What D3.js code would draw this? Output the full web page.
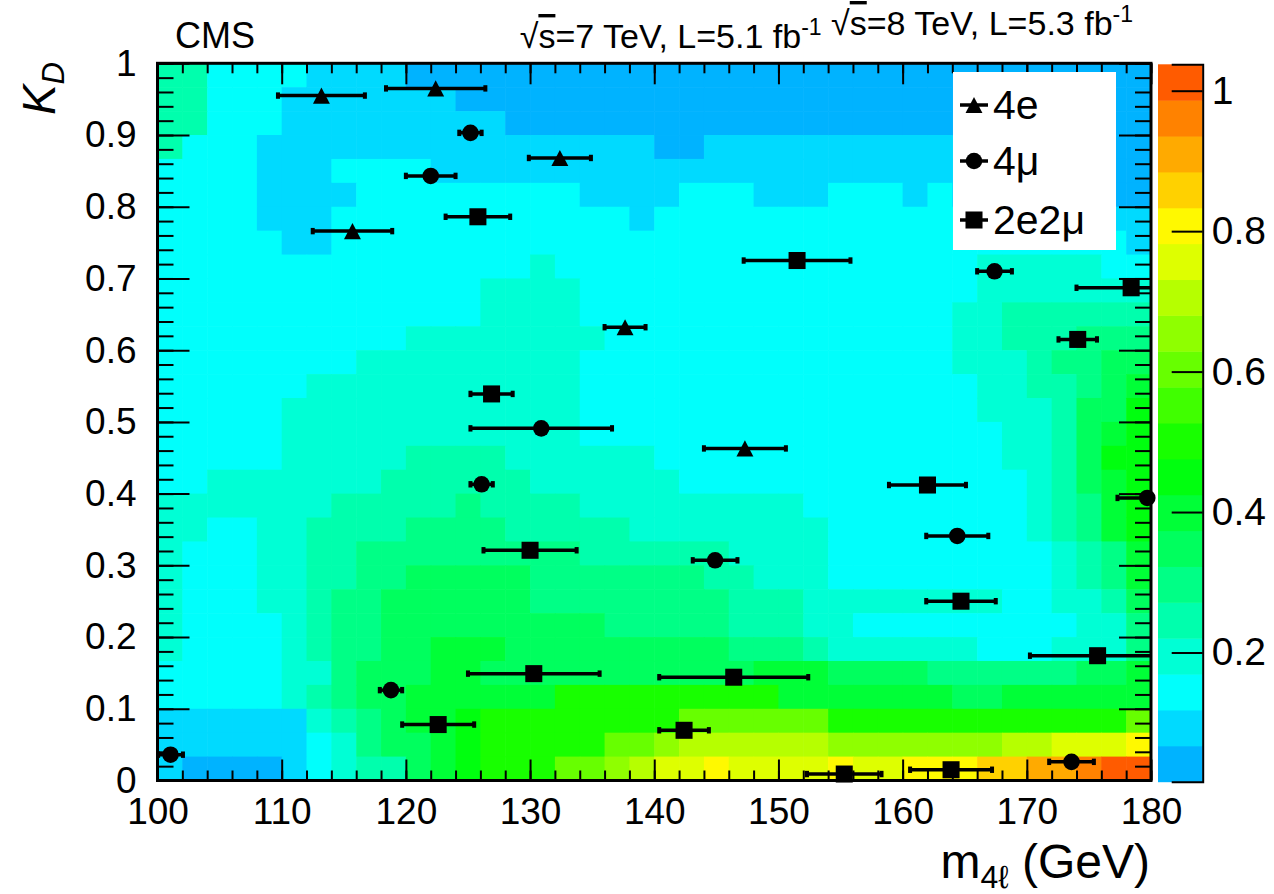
<!DOCTYPE html>
<html>
<head>
<meta charset="utf-8">
<script src="https://cdn.jsdelivr.net/npm/d3@7"></script>
<style>
  body { margin: 0; background: #fff; }
  svg { display: block; font-family: "Liberation Sans", Arial, sans-serif; }
  .tick text { fill: #000; }
</style>
</head>
<body>
<svg id="chart" width="1274" height="894"></svg>
<script>
// ---- data ----
const massEdges = d3.range(100, 180, 2);   // lower edges of the 2 GeV bins
const kdStep = 1 / 30;                     // 30 bins in K_D
// contour level per cell, 0-9 then a-j (=10..19); first row is K_D 0.967-1, last row 0-0.033
const levelRows = [
  "4422221111000000000000000000000000000000",
  "4422211111110000000000000000000000000000",
  "4422211111111100000000000000000000000000",
  "4222111111111111111100111111111111111100",
  "2222111222211111111111111111111111111100",
  "2222111122222222211112221112221211111100",
  "2222111222222222222122222222222222222211",
  "2222211222222222222222222222222222222221",
  "2222222222222223222222222222222223333322",
  "2222222222222333322222222222222223333333",
  "2222222222222333322222222222222233444444",
  "2222222222333333332222222222222233444555",
  "2222222233333333322222222222222233345566",
  "2222223333333333322222222222222223344567",
  "2222233333333333322222222222222223334668",
  "2222233333333333322222222222222222334678",
  "2222233333444433333322222222222222334688",
  "2233333334444443333332222222222222234678",
  "3333333444445444433333333322222222234578",
  "3322334444555544444333333332222222234578",
  "3222334455555555544444433332222222223457",
  "3222334455666665555555443332222222223457",
  "3222334556666665555555544433333333223346",
  "3222234556666666665555544433222222222335",
  "3222234556677766666666655543333332223335",
  "2222233566677666666666667776666555555667",
  "2222234566777777999999999777777766777777",
  "111111345677899999999bbbbbb999999999999bbc",
  "111111235667899999bbcddddddcccccccddeeefgg",
  "1000012344678999bbcdeefeeeefeefffgghhijj"
];
const zMin = 0.016, zMax = 1.0376, nLevels = 20;
const zTicks = [0.2, 0.4, 0.6, 0.8, 1];

// events: [m4l (GeV), mass error (GeV), K_D]
const events4e = [
  [113.2, 3.5, 0.955], [122.4, 4.0, 0.965], [132.4, 2.5, 0.868],
  [115.7, 3.2, 0.766], [137.65, 1.65, 0.632], [147.3, 3.3, 0.463]
];
const events4mu = [
  [125.2, 0.9, 0.903], [122.0, 2.0, 0.843], [167.4, 1.4, 0.710],
  [130.9, 5.7, 0.491], [126.1, 0.9, 0.413], [179.7, 2.4, 0.394],
  [164.4, 2.5, 0.341], [144.9, 1.8, 0.307], [118.8, 0.9, 0.126],
  [101.05, 1.0, 0.036], [173.6, 1.8, 0.026]
];
const events2e2mu = [
  [125.8, 2.6, 0.786], [151.5, 4.3, 0.725], [178.4, 4.4, 0.687],
  [174.1, 1.55, 0.615], [126.9, 1.7, 0.539], [162.0, 3.1, 0.412],
  [130.0, 3.75, 0.321], [164.7, 2.8, 0.250], [175.7, 5.45, 0.174],
  [130.3, 5.3, 0.149], [146.4, 6.0, 0.144], [122.6, 2.9, 0.078],
  [142.4, 2.0, 0.070], [155.3, 3.0, 0.009], [163.9, 3.3, 0.015]
];

const xMajor = [100, 110, 120, 130, 140, 150, 160, 170, 180];
const xMinor = d3.range(100, 181, 2);
const yMajor = [0, 0.1, 0.2, 0.3, 0.4, 0.5, 0.6, 0.7, 0.8, 0.9, 1];
const yMinor = d3.range(0, 51).map(i => i / 50);
const yLabels = ["0", "0.1", "0.2", "0.3", "0.4", "0.5", "0.6", "0.7", "0.8", "0.9", "1"];

// ---- scales ----
const svg = d3.select("#chart");
const x = d3.scaleLinear().domain([100, 180]).range([157.5, 1151]);
const y = d3.scaleLinear().domain([0, 1]).range([780.5, 63.3]);
const z = d3.scaleLinear().domain([zMin, zMax]).range([781.7, 64.3]);
const dz = (zMax - zMin) / nLevels;
// ROOT style rainbow, blue -> red
const palette = d3.range(nLevels).map(i => d3.hsl(198 - i * 9.3, 1, 0.5).formatHex());
const color = d3.scaleQuantize().domain([zMin, zMax]).range(palette);

// ---- heat map cells ----
const cells = [];
levelRows.forEach((row, i) => {
  const kdLow = 1 - (i + 1) * kdStep;
  row.slice(0, massEdges.length).split("").forEach((ch, j) => {
    const level = parseInt(ch, 20);
    cells.push({ m: massEdges[j], kd: kdLow, v: zMin + (level + 0.5) * dz });
  });
});

svg.append("g")
  .selectAll("rect")
  .data(cells)
  .enter()
  .append("rect")
  .attr("x", d => x(d.m))
  .attr("y", d => y(d.kd + kdStep))
  .attr("width", d => x(d.m + 2) - x(d.m) + 0.6)
  .attr("height", d => y(d.kd) - y(d.kd + kdStep) + 0.6)
  .attr("fill", d => color(d.v));

// ---- colour bar ----
const barX = 1158, barW = 44.7;
svg.append("g")
  .selectAll("rect")
  .data(d3.range(nLevels))
  .enter()
  .append("rect")
  .attr("x", barX)
  .attr("y", i => z(zMin + (i + 1) * dz))
  .attr("width", barW)
  .attr("height", i => z(zMin + i * dz) - z(zMin + (i + 1) * dz) + 0.5)
  .attr("fill", i => palette[i]);

const zAxis = svg.append("g")
  .attr("transform", `translate(${barX + barW},0)`)
  .call(d3.axisRight(z).tickValues(zTicks).tickSize(-31).tickPadding(9)
    .tickFormat(d => d === 1 ? "1" : d3.format(".1f")(d)));
zAxis.select(".domain").attr("stroke-width", 2);
zAxis.selectAll(".tick line").attr("stroke-width", 2);
zAxis.selectAll(".tick text").style("font-size", "39px");

// ---- frame axes ----
const addAxis = (axis, tx, ty, sw) => {
  const g = svg.append("g").attr("transform", `translate(${tx},${ty})`).call(axis);
  g.select(".domain").remove();
  g.selectAll(".tick line").attr("stroke-width", sw);
  g.selectAll(".tick text").style("font-size", "37px");
  return g;
};
addAxis(d3.axisBottom(x).tickValues(xMajor).tickSize(-21).tickPadding(17).tickFormat(d3.format("d")), 0, y(0), 2);
addAxis(d3.axisBottom(x).tickValues(xMinor).tickSize(-10).tickFormat(""), 0, y(0), 2);
addAxis(d3.axisTop(x).tickValues(xMajor).tickSize(-21).tickFormat(""), 0, y(1), 2);
addAxis(d3.axisTop(x).tickValues(xMinor).tickSize(-10).tickFormat(""), 0, y(1), 2);
addAxis(d3.axisLeft(y).tickValues(yMajor).tickSize(-32).tickPadding(21).tickFormat((d, i) => yLabels[i]), x(100), 0, 2);
addAxis(d3.axisLeft(y).tickValues(yMinor).tickSize(-16).tickFormat(""), x(100), 0, 2);
addAxis(d3.axisRight(y).tickValues(yMajor).tickSize(-32).tickFormat(""), x(180), 0, 2);
addAxis(d3.axisRight(y).tickValues(yMinor).tickSize(-16).tickFormat(""), x(180), 0, 2);

svg.append("rect")
  .attr("x", x(100)).attr("y", y(1))
  .attr("width", x(180) - x(100)).attr("height", y(0) - y(1))
  .attr("fill", "none").attr("stroke", "#000").attr("stroke-width", 3);

// ---- events ----
svg.append("clipPath").attr("id", "frameClip")
  .append("rect")
  .attr("x", x(100)).attr("y", y(1))
  .attr("width", x(180) - x(100)).attr("height", y(0) - y(1));

const triangle = {
  draw(ctx, size) {
    const h = Math.sqrt(size), w = h * 1.05;
    ctx.moveTo(0, -h / 2);
    ctx.lineTo(w / 2, h / 2);
    ctx.lineTo(-w / 2, h / 2);
    ctx.closePath();
  }
};
const series = [
  { name: "4e", data: events4e, symbol: d3.symbol(triangle, 260) },
  { name: "4\u03bc", data: events4mu, symbol: d3.symbol(d3.symbolCircle, 215) },
  { name: "2e2\u03bc", data: events2e2mu, symbol: d3.symbol(d3.symbolSquare, 290) }
];

const bars = svg.append("g").attr("clip-path", "url(#frameClip)");
series.forEach(s => {
  bars.selectAll(null)
    .data(s.data)
    .enter()
    .append("line")
    .attr("x1", d => x(d[0] - d[1]))
    .attr("x2", d => x(d[0] + d[1]))
    .attr("y1", d => y(d[2]))
    .attr("y2", d => y(d[2]))
    .attr("stroke", "#000")
    .attr("stroke-width", 3.5);
  bars.selectAll(null)
    .data(s.data.flatMap(d => [[d[0] - d[1], d[2]], [d[0] + d[1], d[2]]]))
    .enter()
    .append("rect")
    .attr("x", d => x(d[0]) - 2)
    .attr("y", d => y(d[1]) - 3.2)
    .attr("width", 4)
    .attr("height", 6.4)
    .attr("fill", "#000");
});
const marks = svg.append("g");
series.forEach(s => {
  marks.selectAll(null)
    .data(s.data)
    .enter()
    .append("path")
    .attr("d", s.symbol())
    .attr("transform", d => `translate(${x(d[0])},${y(d[2])})`)
    .attr("fill", "#000");
});

// ---- legend ----
const legend = svg.append("g");
legend.append("rect")
  .attr("x", 953).attr("y", 72).attr("width", 163).attr("height", 178)
  .attr("fill", "#fff");
const legendY = [105, 161, 220];
series.forEach((s, i) => {
  legend.append("line")
    .attr("x1", 960).attr("x2", 988)
    .attr("y1", legendY[i]).attr("y2", legendY[i])
    .attr("stroke", "#000").attr("stroke-width", 3.5);
  legend.append("path")
    .attr("d", s.symbol())
    .attr("transform", `translate(974,${legendY[i]})`);
  legend.append("text")
    .attr("x", 993).attr("y", legendY[i] + 14)
    .style("font-size", "41px")
    .text(s.name);
});

// ---- texts ----
svg.append("text")
  .attr("x", 175).attr("y", 48)
  .style("font-size", "36px")
  .text("CMS");

const lumi = svg.append("text")
  .attr("x", 1133).attr("y", 48)
  .attr("text-anchor", "end")
  .style("font-size", "34px");
const lumiParts = [["7", "5.1"], ["8", "5.3"]];
lumiParts.forEach((p, i) => {
  lumi.append("tspan").text((i ? " " : "") + "\u221a");
  lumi.append("tspan").style("text-decoration", "overline").text("s");
  lumi.append("tspan").text(`=${p[0]} TeV, L=${p[1]} fb`);
  lumi.append("tspan").attr("dy", -13).style("font-size", "23px").text("-1");
  lumi.append("tspan").attr("dy", 13).text("");
});

const kd = svg.append("text")
  .attr("transform", "translate(55,62) rotate(-90)")
  .attr("text-anchor", "end")
  .style("font-size", "46px")
  .style("font-style", "italic");
kd.append("tspan").text("K");
kd.append("tspan").attr("dy", 9).style("font-size", "31px").text("D");

const mt = svg.append("text")
  .attr("x", 1150).attr("y", 878)
  .attr("text-anchor", "end")
  .style("font-size", "48px");
mt.append("tspan").text("m");
mt.append("tspan").attr("dy", 10).style("font-size", "32px").text("4\u2113");
mt.append("tspan").attr("dy", -10).text(" (GeV)");
</script>
</body>
</html>
